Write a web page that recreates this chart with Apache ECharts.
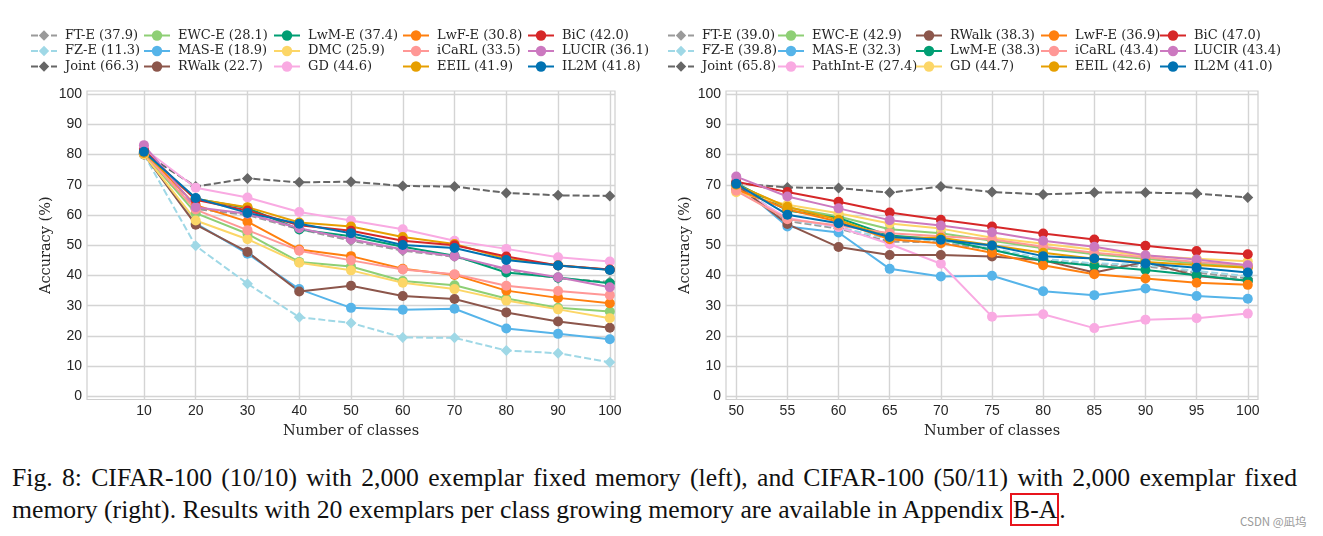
<!DOCTYPE html>
<html>
<head>
<meta charset="utf-8">
<script src="https://cdn.jsdelivr.net/npm/echarts@6/dist/echarts.min.js"></script>
<style>
html,body{margin:0;padding:0;background:#fff;}
#chart{position:absolute;left:0;top:0;width:1323px;height:450px;}
#cap{position:absolute;left:12px;top:462px;width:1285px;font-family:"Liberation Serif",serif;font-size:25.7px;line-height:32px;color:#111;}
#cap .l1{text-align:justify;text-align-last:justify;}
#cap .box{border:2px solid #e8141c;padding:0 0 0 1px;}
#wm{position:absolute;left:1240px;top:513px;font-family:"Noto Sans CJK SC","Noto Sans",sans-serif;font-size:11.5px;color:#9a9a9a;}
</style>
</head>
<body>
<div id="chart"></div>
<div id="cap">
  <div class="l1">Fig. 8: CIFAR-100 (10/10) with 2,000 exemplar fixed memory (left), and CIFAR-100 (50/11) with 2,000 exemplar fixed</div>
  <div class="l2">memory (right). Results with 20 exemplars per class growing memory are available in Appendix <span class="box">B-A</span>.</div>
</div>
<div id="wm">CSDN @凪坞</div>
<script>
// ---------- data ----------
const leftClasses  = [10, 20, 30, 40, 50, 60, 70, 80, 90, 100];
const rightClasses = [50, 55, 60, 65, 70, 75, 80, 85, 90, 95, 100];
const yTicks = [0, 10, 20, 30, 40, 50, 60, 70, 80, 90, 100];

// Left: CIFAR-100 (10/10)
const left_FTE   = [80.2, 62.0, 60.0, 55.3, 51.5, 48.2, 46.2, 42.0, 39.0, 37.9];
const left_FZE   = [80.0, 49.8, 37.3, 26.2, 24.3, 19.5, 19.4, 15.2, 14.3, 11.3];
const left_Joint = [80.5, 69.4, 72.1, 70.8, 71.0, 69.6, 69.4, 67.3, 66.5, 66.3];
const left_EWCE  = [80.3, 60.6, 53.8, 44.5, 43.0, 38.2, 36.8, 32.4, 29.3, 28.1];
const left_MASE  = [80.0, 57.2, 47.2, 35.5, 29.3, 28.7, 29.0, 22.5, 20.7, 18.9];
const left_RWalk = [80.0, 56.8, 47.8, 34.7, 36.6, 33.2, 32.2, 27.8, 24.8, 22.7];
const left_LwME  = [80.6, 65.4, 62.3, 55.2, 53.0, 49.5, 46.5, 41.0, 39.3, 37.4];
const left_DMC   = [80.0, 58.2, 52.0, 44.2, 41.7, 37.6, 35.5, 31.7, 28.8, 25.9];
const left_GD    = [82.0, 69.0, 65.8, 61.0, 58.2, 55.3, 51.5, 48.8, 46.0, 44.6];
const left_LwFE  = [81.0, 63.2, 57.8, 48.6, 46.4, 42.2, 40.2, 35.0, 32.6, 30.8];
const left_iCaRL = [80.5, 61.8, 55.0, 48.2, 45.0, 42.0, 40.4, 36.6, 34.9, 33.5];
const left_EEIL  = [80.5, 65.3, 62.6, 57.5, 56.2, 52.7, 50.4, 45.5, 43.4, 41.9];
const left_BiC   = [81.5, 65.0, 61.5, 56.6, 54.8, 51.5, 50.0, 46.3, 43.3, 42.0];
const left_LUCIR = [83.1, 62.6, 60.4, 55.6, 52.0, 48.6, 46.4, 42.2, 39.4, 36.1];
const left_IL2M  = [80.9, 65.6, 60.7, 57.1, 54.0, 50.1, 49.1, 45.1, 43.3, 41.8];

// Right: CIFAR-100 (50/11)
const right_FTE     = [70.0, 58.0, 55.5, 51.2, 51.0, 48.5, 45.0, 43.6, 43.0, 41.0, 39.0];
const right_FZE     = [70.0, 58.5, 56.0, 52.0, 51.5, 49.0, 45.5, 44.0, 43.5, 41.5, 39.8];
const right_Joint   = [70.5, 69.1, 68.9, 67.4, 69.4, 67.6, 66.8, 67.4, 67.4, 67.1, 65.8];
const right_EWCE    = [70.0, 62.5, 59.5, 55.3, 54.0, 51.5, 49.0, 47.0, 45.5, 44.0, 42.9];
const right_MASE    = [70.5, 56.2, 54.2, 42.2, 39.7, 39.9, 34.8, 33.5, 35.7, 33.2, 32.3];
const right_PathInt = [69.0, 59.0, 56.0, 50.4, 43.9, 26.4, 27.2, 22.6, 25.4, 25.9, 27.4];
const right_RWalk   = [70.0, 57.0, 49.4, 46.8, 46.8, 46.3, 45.0, 41.0, 44.5, 39.8, 38.3];
const right_LwME    = [70.5, 61.5, 59.0, 53.2, 52.0, 48.5, 44.8, 43.2, 41.8, 40.1, 38.3];
const right_GD      = [67.5, 63.4, 60.6, 57.2, 55.5, 52.5, 50.5, 48.5, 46.5, 45.5, 44.7];
const right_LwFE    = [68.5, 61.9, 57.8, 52.0, 50.7, 47.5, 43.4, 40.4, 39.0, 37.6, 36.9];
const right_iCaRL   = [68.0, 58.6, 56.5, 54.0, 53.0, 52.0, 49.5, 47.5, 46.0, 44.5, 43.4];
const right_EEIL    = [70.0, 62.7, 58.4, 52.5, 52.5, 50.0, 47.5, 45.5, 44.5, 43.5, 42.6];
const right_BiC     = [71.0, 67.6, 64.4, 60.8, 58.4, 56.2, 53.9, 51.9, 49.8, 48.1, 47.0];
const right_LUCIR   = [72.7, 66.1, 62.2, 58.3, 56.5, 54.3, 51.5, 49.5, 46.7, 45.3, 43.4];
const right_IL2M    = [70.3, 60.1, 57.3, 52.7, 51.8, 49.9, 46.4, 45.6, 44.0, 42.6, 41.0];

// ---------- styles ----------
const styles = {
  'FT-E':      {color: '#9a9a9a', dashed: true},
  'FZ-E':      {color: '#9fd8e6', dashed: true},
  'Joint':     {color: '#666666', dashed: true},
  'EWC-E':     {color: '#8ecf75'},
  'MAS-E':     {color: '#56b4e9'},
  'RWalk':     {color: '#8c564b'},
  'LwM-E':     {color: '#009e73'},
  'DMC':       {color: '#fcd667'},
  'GD_left':   {color: '#f9aae2'},
  'GD_right':  {color: '#fcd667'},
  'PathInt-E': {color: '#f9aae2'},
  'LwF-E':     {color: '#ff7f0e'},
  'iCaRL':     {color: '#ff9896'},
  'EEIL':      {color: '#e69f00'},
  'BiC':       {color: '#d62728'},
  'LUCIR':     {color: '#cc79c0'},
  'IL2M':      {color: '#0072b2'}
};

const leftSets = [
  ['FT-E', left_FTE], ['FZ-E', left_FZE], ['Joint', left_Joint],
  ['EWC-E', left_EWCE], ['MAS-E', left_MASE], ['RWalk', left_RWalk],
  ['LwM-E', left_LwME], ['DMC', left_DMC], ['GD', left_GD, 'GD_left'],
  ['LwF-E', left_LwFE], ['iCaRL', left_iCaRL], ['EEIL', left_EEIL],
  ['BiC', left_BiC], ['LUCIR', left_LUCIR], ['IL2M', left_IL2M]
];
const rightSets = [
  ['FT-E', right_FTE], ['FZ-E', right_FZE], ['Joint', right_Joint],
  ['EWC-E', right_EWCE], ['MAS-E', right_MASE], ['PathInt-E', right_PathInt, 'PathInt-E'],
  ['RWalk', right_RWalk], ['LwM-E', right_LwME], ['GD', right_GD, 'GD_right'],
  ['LwF-E', right_LwFE], ['iCaRL', right_iCaRL], ['EEIL', right_EEIL],
  ['BiC', right_BiC], ['LUCIR', right_LUCIR], ['IL2M', right_IL2M]
];

function label(name, vals) { return name + ' (' + vals[vals.length - 1].toFixed(1) + ')'; }

function makeSeries(sets, classes, idx) {
  return sets.map(([name, vals, key]) => {
    const st = styles[key || name];
    return {
      type: 'line',
      name: label(name, vals),
      xAxisIndex: idx, yAxisIndex: idx,
      data: classes.map((c, i) => [c, vals[i]]),
      symbol: st.dashed ? 'diamond' : 'circle',
      symbolSize: st.dashed ? 11 : 10,
      showSymbol: true,
      itemStyle: {color: st.color},
      lineStyle: {color: st.color, width: 2, type: st.dashed ? [7, 3] : 'solid'},
      emphasis: {disabled: true},
      animation: false
    };
  });
}

function makeLegends(sets, lefts) {
  const out = [];
  for (let c = 0; c < 5; c++) {
    out.push({
      orient: 'vertical',
      left: lefts[c], top: 24,
      itemWidth: 26, itemHeight: 13, itemGap: 2.5,
      selectedMode: false,
      textStyle: {fontFamily: 'DejaVu Serif', fontSize: 13, color: '#262626', lineHeight: 13, padding: [0, 0, 0, 3]},
      data: sets.slice(c * 3, c * 3 + 3).map(([n, v]) => label(n, v))
    });
  }
  return out;
}

const axisLabelStyle = {fontFamily: 'Liberation Sans', fontSize: 14, color: '#262626'};
const nameStyle = {fontFamily: 'DejaVu Serif', fontSize: 14.5, color: '#262626'};
const splitLine = {show: true, lineStyle: {color: '#d4d4d4', width: 1.4}};

function xAxis(idx, min, max, ticks) {
  return {
    type: 'value', gridIndex: idx, min: min, max: max,
    name: 'Number of classes', nameLocation: 'middle', nameGap: 22, nameTextStyle: nameStyle,
    axisLine: {show: false}, axisTick: {show: false, customValues: ticks},
    axisLabel: Object.assign({customValues: ticks, margin: 5}, axisLabelStyle),
    splitLine: splitLine
  };
}
function yAxis(idx) {
  return {
    type: 'value', gridIndex: idx, min: -1, max: 101,
    name: 'Accuracy (%)', nameLocation: 'middle', nameGap: 33, nameTextStyle: nameStyle,
    axisLine: {show: false}, axisTick: {show: false, customValues: yTicks},
    axisLabel: Object.assign({customValues: yTicks, margin: 5}, axisLabelStyle),
    splitLine: splitLine
  };
}

const chart = echarts.init(document.getElementById('chart'), null, {renderer: 'canvas'});
chart.setOption({
  backgroundColor: '#ffffff',
  animation: false,
  grid: [
    {left: 87, top: 91, width: 528, height: 308.5, show: true, borderColor: '#cfcfcf', borderWidth: 1.2, backgroundColor: 'transparent'},
    {left: 726, top: 91, width: 532, height: 308.5, show: true, borderColor: '#cfcfcf', borderWidth: 1.2, backgroundColor: 'transparent'}
  ],
  xAxis: [xAxis(0, -1, 101, leftClasses), xAxis(1, 49, 101, rightClasses)],
  yAxis: [yAxis(0), yAxis(1)],
  legend: makeLegends(leftSets, [25, 138, 268, 397, 522]).concat(makeLegends(rightSets, [662, 772, 910, 1035, 1154])),
  series: makeSeries(leftSets, leftClasses, 0).concat(makeSeries(rightSets, rightClasses, 1))
});
</script>
</body>
</html>
